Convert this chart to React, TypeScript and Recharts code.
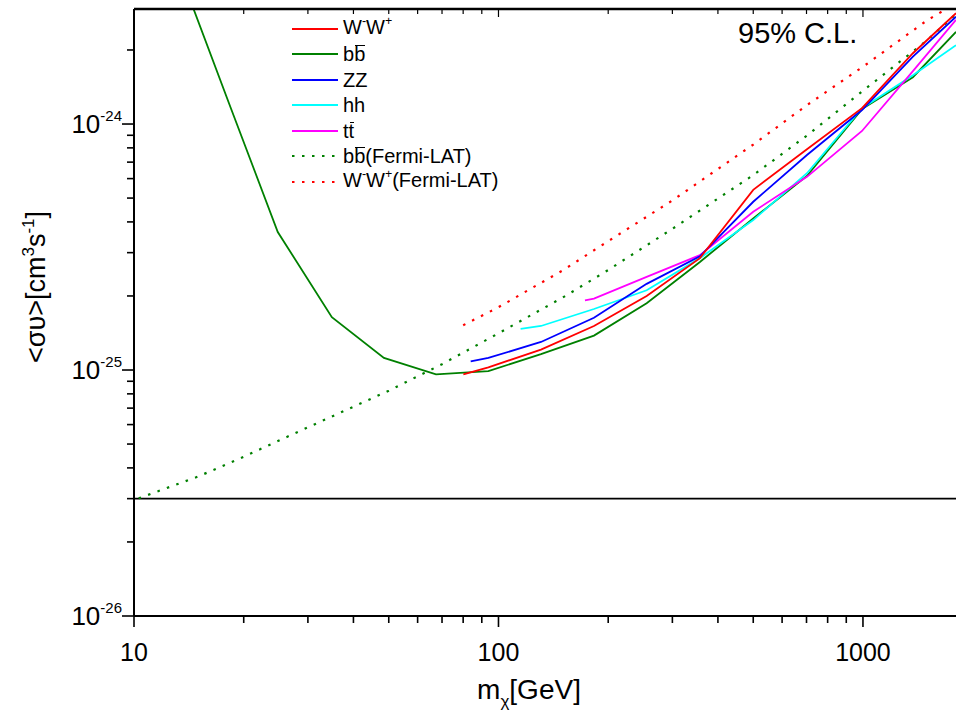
import React from 'react';
import { LineChart, Line, XAxis, YAxis, ReferenceLine, Legend, Label } from 'recharts';

const FONT = '"Liberation Sans", Arial, Helvetica, sans-serif';

// ---- data (mass in GeV, <sigma v> in cm^3 s^-1) ----
const massWW = [80.1, 93.8, 130.8, 182.8, 255, 357, 500, 702, 994, 1371, 1800];
const sigmaWW = [9.6e-26, 1.026e-25, 1.21e-25, 1.51e-25, 2.0e-25, 2.85e-25, 5.4e-25, 7.89e-25, 1.16e-24, 1.94e-24, 2.82e-24];

const massBB = [13, 18.2, 24.8, 34.9, 48.5, 67.4, 93.8, 130.8, 182.8, 255, 357, 500, 702, 994, 1371, 1800];
const sigmaBB = [4.6e-24, 1.22e-24, 3.64e-25, 1.64e-25, 1.12e-25, 9.6e-26, 9.9e-26, 1.16e-25, 1.38e-25, 1.87e-25, 2.75e-25, 4.13e-25, 6.15e-25, 1.15e-24, 1.55e-24, 2.37e-24];

const massZZ = [83.9, 93.8, 130.8, 182.8, 255, 357, 500, 702, 994, 1371, 1800];
const sigmaZZ = [1.084e-25, 1.12e-25, 1.3e-25, 1.63e-25, 2.24e-25, 2.9e-25, 4.83e-25, 7.48e-25, 1.14e-24, 1.88e-24, 2.73e-24];

const massHH = [115, 130.8, 182.8, 255, 357, 500, 702, 994, 1371, 1800];
const sigmaHH = [1.47e-25, 1.51e-25, 1.77e-25, 2.11e-25, 2.85e-25, 4.07e-25, 6.31e-25, 1.16e-24, 1.58e-24, 2.09e-24];

const massTT = [172.7, 182.8, 255, 357, 500, 702, 994, 1371, 1800];
const sigmaTT = [1.92e-25, 1.95e-25, 2.39e-25, 2.93e-25, 4.4e-25, 6.1e-25, 9.37e-25, 1.64e-24, 2.65e-24];

const massBBFermi = [10.3, 15, 20, 30, 50, 70, 100, 150, 200, 300, 500, 700, 1000, 1500, 1800];
const sigmaBBFermi = [3.01e-26, 3.69e-26, 4.44e-26, 5.85e-26, 8.24e-26, 1.056e-25, 1.41e-25, 1.97e-25, 2.55e-25, 3.75e-25, 6.2e-25, 8.95e-25, 1.365e-24, 2.19e-24, 2.8e-24];

const massWWFermi = [80, 100, 150, 200, 300, 500, 700, 1000, 1500, 1800];
const sigmaWWFermi = [1.52e-25, 1.8e-25, 2.54e-25, 3.34e-25, 4.89e-25, 8.25e-25, 1.19e-24, 1.71e-24, 2.64e-24, 3.1e-24];

const thermalRelic = 3e-26;

const xTicks = [10, 20, 30, 40, 50, 60, 70, 80, 90, 100, 200, 300, 400, 500, 600, 700, 800, 900, 1000];
const xMajor = [10, 100, 1000];
const yTicks = [
  1e-26, 2e-26, 3e-26, 4e-26, 5e-26, 6e-26, 7e-26, 8e-26, 9e-26,
  1e-25, 2e-25, 3e-25, 4e-25, 5e-25, 6e-25, 7e-25, 8e-25, 9e-25,
  1e-24, 2e-24,
];
const xDomain = [10, 1800];
const yDomain = [1e-26, 2.935e-24];

const zip = (m: number[], s: number[]) => m.map((v, i) => ({ m: v, s: s[i] }));

const series = [
  { key: 'bbF', data: zip(massBBFermi, sigmaBBFermi), color: '#008000', dash: '2.5 7.5' },
  { key: 'WWF', data: zip(massWWFermi, sigmaWWFermi), color: '#ff0000', dash: '2.5 7.5' },
  { key: 'bb', data: zip(massBB, sigmaBB), color: '#008000', dash: undefined },
  { key: 'hh', data: zip(massHH, sigmaHH), color: '#00ffff', dash: undefined },
  { key: 'tt', data: zip(massTT, sigmaTT), color: '#ff00ff', dash: undefined },
  { key: 'ZZ', data: zip(massZZ, sigmaZZ), color: '#0000ff', dash: undefined },
  { key: 'WW', data: zip(massWW, sigmaWW), color: '#ff0000', dash: undefined },
];

const legendOrder = ['WW', 'bb', 'ZZ', 'hh', 'tt', 'bbF', 'WWF'];

const Sup = ({ children }: any) => (
  <span style={{ fontSize: '0.62em', position: 'relative', top: '-0.75em' }}>{children}</span>
);
const Bar = ({ children }: any) => (
  <span style={{ position: 'relative', display: 'inline-block' }}>
    {children}
    <span
      style={{
        position: 'absolute',
        left: 1,
        right: 0,
        top: 2,
        borderTop: '1.5px solid #000',
      }}
    />
  </span>
);

const legendLabels: Record<string, any> = {
  WW: <>W<Sup>-</Sup>W<Sup>+</Sup></>,
  bb: <>b<Bar>b</Bar></>,
  ZZ: <>ZZ</>,
  hh: <>hh</>,
  tt: <>t<Bar>t</Bar></>,
  bbF: <>b<Bar>b</Bar>(Fermi-LAT)</>,
  WWF: <>W<Sup>-</Sup>W<Sup>+</Sup>(Fermi-LAT)</>,
};

const LegendContent = (props: any) => {
  const payload = (props.payload || []).slice();
  payload.sort((a: any, b: any) => legendOrder.indexOf(a.value) - legendOrder.indexOf(b.value));
  return (
    <div style={{ fontFamily: FONT, fontSize: 20, color: '#000' }}>
      {payload.map((p: any) => {
        const dash = p.payload && p.payload.strokeDasharray;
        return (
          <div key={p.value} style={{ display: 'flex', alignItems: 'center', height: 25.5 }}>
            <svg width={46} height={4} style={{ marginRight: 5, display: 'block' }}>
              <line x1={0} y1={2} x2={46} y2={2} stroke={p.color} strokeWidth={2} strokeDasharray={dash} />
            </svg>
            <span style={{ whiteSpace: 'nowrap', lineHeight: '22px' }}>{legendLabels[p.value]}</span>
          </div>
        );
      })}
    </div>
  );
};

const isMajorY = (v: number) => {
  const l = Math.log10(v);
  return Math.abs(l - Math.round(l)) < 1e-6;
};

const XTick = (props: any) => {
  const { x, y, payload } = props;
  const major = xMajor.includes(payload.value);
  return (
    <g>
      <line x1={x} x2={x} y1={y} y2={y + (major ? 11 : 7)} stroke="#000" strokeWidth={1.6} />
      {major && (
        <text x={x} y={y + 45} textAnchor="middle" fontSize={25} fontFamily={FONT} fill="#000">
          {payload.value}
        </text>
      )}
    </g>
  );
};

const TopTick = (props: any) => {
  const { x, y, payload } = props;
  const major = xMajor.includes(payload.value);
  return <line x1={x} x2={x} y1={y} y2={y + (major ? 8 : 5)} stroke="#000" strokeWidth={1.2} />;
};

const YTick = (props: any) => {
  const { x, y, payload } = props;
  const major = isMajorY(payload.value);
  const exp = Math.round(Math.log10(payload.value));
  return (
    <g>
      <line x1={x} x2={x - (major ? 12 : 7)} y1={y} y2={y} stroke="#000" strokeWidth={1.6} />
      {major && (
        <text x={x - 12} y={y + 9} textAnchor="end" fontSize={26} fontFamily={FONT} fill="#000">
          10
          <tspan dy={-12} fontSize={15}>{String(exp)}</tspan>
        </text>
      )}
    </g>
  );
};

const YLabel = (props: any) => {
  const vb = props.viewBox || { x: 0, y: 9, width: 134, height: 607 };
  const cx = vb.x + 45;
  const cy = vb.y + 278;
  return (
    <g>
      <text
        x={cx}
        y={cy}
        transform={`rotate(-90 ${cx} ${cy})`}
        textAnchor="middle"
        fontSize={27}
        fontFamily={FONT}
        fill="#000"
      >
        {'<συ>[cm'}
        <tspan dy={-11} fontSize={17}>3</tspan>
        <tspan dy={11}>s</tspan>
        <tspan dy={-11} fontSize={17}>-1</tspan>
        <tspan dy={11}>]</tspan>
      </text>
      <text x={vb.x + 738} y={vb.y + 34} textAnchor="start" fontSize={29} fontFamily={FONT} fill="#000">
        95% C.L.
      </text>
    </g>
  );
};

const XLabel = (props: any) => {
  const vb = props.viewBox || { x: 134, y: 616, width: 822, height: 96 };
  const cx = vb.x + 395;
  const cy = vb.y + 83;
  return (
    <text x={cx} y={cy} textAnchor="middle" fontSize={28} fontFamily={FONT} fill="#000">
      m
      <tspan dy={8} fontSize={17}>χ</tspan>
      <tspan dy={-8}>[GeV]</tspan>
    </text>
  );
};

export default function App() {
  return (
    <div style={{ position: 'absolute', left: 0, top: 0, width: 956, height: 712, background: '#fff', overflow: 'hidden' }}>
      <LineChart width={956} height={712} margin={{ top: 8, right: 0, bottom: 0, left: 0 }}>
        <XAxis
          xAxisId={0}
          type="number"
          dataKey="m"
          scale="log"
          domain={xDomain}
          allowDataOverflow
          ticks={xTicks}
          interval={0}
          tickSize={0}
          tickMargin={0}
          tickLine={false}
          tick={<XTick />}
          axisLine={{ stroke: '#000', strokeWidth: 2 }}
          height={96}
        >
          <Label content={<XLabel />} />
        </XAxis>
        <XAxis
          xAxisId="top"
          orientation="top"
          type="number"
          dataKey="m"
          scale="log"
          domain={xDomain}
          allowDataOverflow
          ticks={xTicks}
          interval={0}
          tickSize={0}
          tickMargin={0}
          tickLine={false}
          tick={<TopTick />}
          axisLine={{ stroke: '#000', strokeWidth: 2.5 }}
          height={1}
        />
        <YAxis
          type="number"
          scale="log"
          domain={yDomain}
          allowDataOverflow
          ticks={yTicks}
          interval={0}
          tickSize={0}
          tickMargin={0}
          tickLine={false}
          tick={<YTick />}
          axisLine={{ stroke: '#000', strokeWidth: 2 }}
          width={134}
        >
          <Label content={<YLabel />} />
        </YAxis>
        <ReferenceLine y={thermalRelic} stroke="#000" strokeWidth={1.8} ifOverflow="visible" />
        {series.map((s) => (
          <Line
            key={s.key}
            name={s.key}
            data={s.data}
            dataKey="s"
            type="linear"
            stroke={s.color}
            strokeWidth={s.dash ? 2.2 : 1.8}
            strokeDasharray={s.dash}
            dot={false}
            activeDot={false}
            isAnimationActive={false}
            legendType="line"
          />
        ))}
        <Legend
          layout="vertical"
          align="center"
          verticalAlign="middle"
          content={<LegendContent />}
          wrapperStyle={{ position: 'absolute', left: 292, top: 16, width: 320, height: 180 }}
        />
      </LineChart>
    </div>
  );
}
